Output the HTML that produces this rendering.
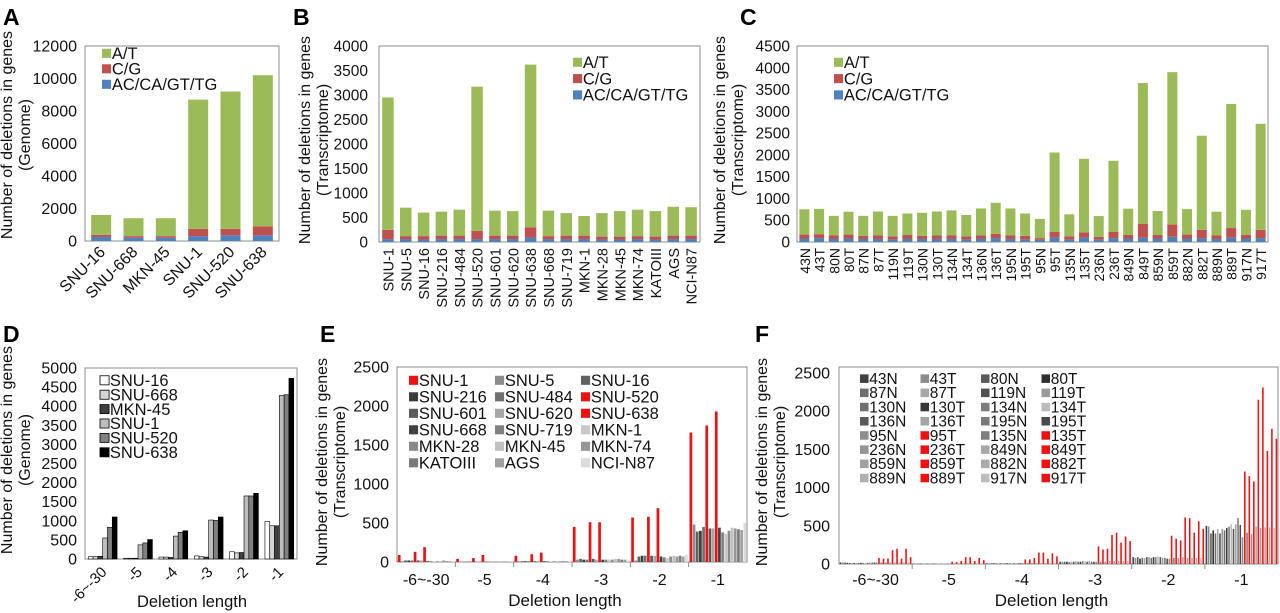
<!DOCTYPE html>
<html><head><meta charset="utf-8">
<style>
html,body{margin:0;padding:0;background:#fff;}
svg{display:block;font-family:"Liberation Sans",Arial,sans-serif;}
</style></head>
<body>
<svg id="fig" width="1280" height="613" viewBox="0 0 1280 613" xmlns="http://www.w3.org/2000/svg">
<g font-size="23" font-weight="bold" fill="#000">
<text x="3" y="25">A</text>
<text x="293" y="25">B</text>
<text x="740" y="25">C</text>
<text x="3" y="342">D</text>
<text x="320" y="342">E</text>
<text x="755" y="342">F</text>
</g>
</svg>
<script>
// ---------- Panel A data ----------
const aCats = ["SNU-16","SNU-668","MKN-45","SNU-1","SNU-520","SNU-638"];
const aBlue = [250,200,200,300,350,350];
const aRed = [130,100,100,450,400,550];
const aGreen = [1220,1100,1100,7950,8450,9300];
const aTicks = [0,2000,4000,6000,8000,10000,12000];
// ---------- Panel B data ----------
const bCats = ["SNU-1","SNU-5","SNU-16","SNU-216","SNU-484","SNU-520","SNU-601","SNU-620","SNU-638","SNU-668","SNU-719","MKN-1","MKN-28","MKN-45","MKN-74","KATOIII","AGS","NCI-N87"];
const bBlue = [60,60,50,60,60,60,60,60,90,60,60,60,50,50,60,50,60,60];
const bRed = [190,60,70,70,70,170,70,70,210,60,70,70,60,60,60,60,70,70];
const bGreen = [2700,580,480,490,530,2940,510,500,3320,520,460,400,480,520,540,520,590,580];
const bTicks = [0,500,1000,1500,2000,2500,3000,3500,4000];
// ---------- Panel C data ----------
const cCats = ["43N","43T","80N","80T","87N","87T","119N","119T","130N","130T","134N","134T","136N","136T","195N","195T","95N","95T","135N","135T","236N","236T","849N","849T","859N","859T","882N","882T","889N","889T","917N","917T"];
const cBlue = [80,90,70,80,70,70,60,70,70,70,70,60,70,90,70,60,50,100,60,100,60,90,80,100,80,120,80,90,70,100,80,90];
const cRed = [90,90,80,90,70,80,70,90,70,80,80,70,80,100,80,80,40,130,70,120,60,140,80,320,80,280,90,190,80,220,80,190];
const cGreen = [580,580,450,525,460,550,470,495,530,550,575,490,620,710,620,515,440,1825,505,1690,475,1635,605,3230,550,3500,585,2160,545,2850,580,2435];
const cTicks = [0,500,1000,1500,2000,2500,3000,3500,4000,4500];
// ---------- Panel D data ----------
const dGroups = ["-6~-30","-5","-4","-3","-2","-1"];
const dSeries = ["SNU-16","SNU-668","MKN-45","SNU-1","SNU-520","SNU-638"];
const dSNU16 = [60,20,50,80,190,980];
const dSNU668 = [60,20,50,60,160,870];
const dMKN45 = [70,20,40,50,170,870];
const dSNU1 = [550,370,600,1020,1650,4280];
const dSNU520 = [830,420,700,1010,1650,4300];
const dSNU638 = [1100,510,740,1100,1720,4730];
const dTicks = [0,500,1000,1500,2000,2500,3000,3500,4000,4500,5000];
// ---------- Panel E data ----------
const eGroups = ["-6~-30","-5","-4","-3","-2","-1"];
const eSeries = ["SNU-1","SNU-5","SNU-16","SNU-216","SNU-484","SNU-520","SNU-601","SNU-620","SNU-638","SNU-668","SNU-719","MKN-1","MKN-28","MKN-45","MKN-74","KATOIII","AGS","NCI-N87"];
const eLen6 = [90,10,20,20,20,130,20,20,190,10,10,10,10,10,20,10,10,10];
const eLen5 = [40,3,3,3,3,50,3,3,90,3,3,3,3,3,3,3,3,3];
const eLen4 = [80,10,10,10,10,100,10,10,120,10,10,5,10,10,10,10,10,10];
const eLen3 = [450,30,40,30,30,510,40,30,510,30,30,30,30,40,40,30,30,20];
const eLen2 = [570,20,70,80,80,580,80,80,690,70,60,50,70,80,70,80,70,90];
const eLen1 = [1660,480,390,400,450,1750,430,430,1930,440,380,360,400,440,430,420,410,500];
const eTicks = [0,500,1000,1500,2000,2500];
// ---------- Panel F data ----------
const fSeries = ["43N","43T","80N","80T","87N","87T","119N","119T","130N","130T","134N","134T","136N","136T","195N","195T","95N","95T","135N","135T","236N","236T","849N","849T","859N","859T","882N","882T","889N","889T","917N","917T"];
const fLen6 = [20,20,20,15,15,15,15,15,15,15,15,15,15,20,20,20,20,80,20,70,20,70,20,180,20,200,20,70,20,200,20,90];
const fLen5 = [5,5,5,5,5,5,5,5,5,5,5,5,5,5,5,5,5,30,5,25,5,40,5,90,5,90,5,40,5,80,5,50];
const fLen4 = [10,10,10,10,10,10,10,10,10,10,10,10,10,10,15,10,10,60,10,60,10,80,10,150,10,150,10,70,10,140,10,100];
const fLen3 = [30,30,30,30,25,30,30,35,30,30,40,35,30,40,30,30,30,230,30,190,30,200,40,380,40,410,40,280,40,360,40,300];
const fLen2 = [90,80,90,70,80,80,90,90,80,90,90,100,90,80,80,70,70,370,80,330,80,310,90,610,80,600,80,410,80,560,80,460];
const fLen1 = [500,490,400,440,400,460,400,460,440,470,490,520,460,520,600,510,350,1210,410,1150,390,1080,490,2150,470,2310,480,1480,480,1770,470,1640];
const fTicks = [0,500,1000,1500,2000,2500];

const NS = "http://www.w3.org/2000/svg";
const svg = document.getElementById("fig");
const GREEN = "#9bbb59", RED = "#c0504d", BLUE = "#4f81bd", BRED = "#ee1111";

function mk(tag, attrs, parent) {
  const el = document.createElementNS(NS, tag);
  for (const k in attrs) el.setAttribute(k, attrs[k]);
  (parent || svg).appendChild(el);
  return el;
}
function txt(s, x, y, size, anchor, parent, rot) {
  const t = mk("text", {x: x, y: y, "font-size": size, "text-anchor": anchor || "start", fill: "#111"}, parent);
  if (rot) t.setAttribute("transform", "rotate(" + rot + " " + x + " " + y + ")");
  t.textContent = s;
  return t;
}
function axisY(max, y0, y1) { return v => y0 - (v / max) * (y0 - y1); }
function axisX(n, x0, x1) { const w = (x1 - x0) / n; return i => x0 + w * (i + 0.5); }

function frame(name, x0, y0, x1, y1) {
  const r = mk("rect", {x: x0, y: y1, width: x1 - x0, height: y0 - y1, fill: "none", stroke: "#8c8c8c", "stroke-width": 1});
  
  
}
function yTicks(ticks, sy, x, size, prefix) {
  const g = mk("g", {});
  
  
  ticks.forEach(v => {
    const t = txt(String(v), x, sy(v) + 5.5, size, "end", g);
    
    
  });
}
function yTitle(lines, cx, cy, size, prefix) {
  const g = mk("g", {});
  
  
  lines.forEach((s, i) => {
    const x = cx + i * 18;
    txt(s, x, cy, size, "middle", g, -90);
  });
}
function legendEntry(g, label, color, x, y, size, stroke) {
  const e = mk("g", {}, g);
  
  
  mk("rect", {x: x, y: y - size * 0.62, width: size * 0.55, height: size * 0.55, fill: color, stroke: stroke || "none", "stroke-width": 0.8}, e);
  txt(label, x + size * 0.6, y, size, "start", e);
}

// ---------- stacked panels ----------
function stacked(prefix, cats, blue, red, green, ticks, max, x0, x1, y0, y1, barW, labFont, rot, labY, tickX, tickFont) {
  frame(prefix + '-plot-frame', x0, y0, x1, y1);
  const sy = axisY(max, y0, y1), sx = axisX(cats.length, x0, x1);
  yTicks(ticks, sy, tickX, tickFont, prefix);
  const g = mk("g", {});
  
  
  cats.forEach((c, i) => {
    const cx = sx(i);
    let base = 0;
    [[blue[i], BLUE, 'blue'], [red[i], RED, 'red'], [green[i], GREEN, 'green']].forEach(seg => {
      const r = mk("rect", {x: cx - barW / 2, y: sy(base + seg[0]), width: barW, height: sy(base) - sy(base + seg[0]), fill: seg[1]}, g);
      
      
      base += seg[0];
    });
    let t;
    if (rot === -45) t = txt(c, cx + 5, labY, labFont, "end", null, -45);
    else t = txt(c, cx + 5.5, labY, labFont, "end", null, -90);
    
    
  });
}
stacked('a', aCats, aBlue, aRed, aGreen, aTicks, 12000, 85, 279, 241, 46, 20, 16, -45, 253, 77, 16);
stacked('b', bCats, bBlue, bRed, bGreen, bTicks, 4000, 379, 700, 242, 46, 11.5, 14.5, -90, 248, 368, 15.5);
stacked('c', cCats, cBlue, cRed, cGreen, cTicks, 4500, 797, 1268, 242, 46, 10, 14, -90, 248, 790, 15.5);
yTitle(["Number of deletions in genes", "(Genome)"], 12, 135, 16, 'a');
yTitle(["Number of deletions in genes", "(Transcriptome)"], 310, 140, 16, 'b');
yTitle(["Number of deletions in genes", "(Transcriptome)"], 725, 140, 16, 'c');
[['a', 102, 59, 16.5], ['b', 573, 68, 16.5], ['c', 834, 68, 16.5]].forEach(p => {
  const g = mk("g", {});
  
  
  const sp = p[0] === 'a' ? 15.5 : 16.3;
  legendEntry(g, "A/T", GREEN, p[1], p[2], p[3]);
  legendEntry(g, "C/G", RED, p[1], p[2] + sp, p[3]);
  legendEntry(g, "AC/CA/GT/TG", BLUE, p[1], p[2] + sp * 2, p[3]);
});

// ---------- Panel D ----------
(function () {
  const x0 = 85, x1 = 297, y0 = 559, y1 = 368;
  frame('d-plot-frame', x0, y0, x1, y1);
  const sy = axisY(5000, y0, y1), sx = axisX(dGroups.length, x0, x1);
  yTicks(dTicks, sy, 77, 16, 'd');
  const series = [dSNU16, dSNU668, dMKN45, dSNU1, dSNU520, dSNU638];
  const colors = ["#ffffff", "#d4d4d4", "#404040", "#bdbdbd", "#808080", "#000000"];
  const bw = 4.8;
  const g = mk("g", {});
  
  
  dGroups.forEach((grp, gi) => {
    const cx = sx(gi);
    series.forEach((s, si) => {
      const x = cx - 3 * bw + si * bw;
      const r = mk("rect", {x: x, y: sy(s[gi]), width: bw, height: y0 - sy(s[gi]), fill: colors[si], stroke: "#000", "stroke-width": 0.6}, g);
      
      
    });
    const t = txt(grp, cx + 5, 573, 15, "end", null, -45);
    
    
  });
  const lg = mk("g", {});
  
  
  dSeries.forEach((s, i) => legendEntry(lg, s, colors[i], 100, 386 + i * 14.4, 16.5, "#000"));
  yTitle(["Number of deletions in genes", "(Genome)"], 12, 450, 16, 'd');
  const xt = txt("Deletion length", 192, 607, 16.5, "middle");
  
  
})();

// ---------- grouped panels E & F ----------
function grouped(prefix, groups, series, colors, ticks, x0, x1, y0, y1, yTop, tickX, bwFrac) {
  frame(prefix + '-plot-frame', x0, y0, x1, y1);
  const sy = axisY(2500, y0, yTop), sx = axisX(groups.length, x0, x1);
  yTicks(ticks, sy, tickX, 16, prefix);
  const gw = (x1 - x0) / groups.length;
  const n = series.length;
  const slot = gw / (n + 0.4);
  const g = mk("g", {});
  
  
  groups.forEach((grp, gi) => {
    const gx = x0 + gi * gw + slot * 0.2;
    series.forEach((s, si) => {
      const v = s[gi];
      const r = mk("rect", {x: gx + si * slot + slot * (1 - bwFrac) / 2, y: sy(v), width: slot * bwFrac, height: y0 - sy(v), fill: colors[si]}, g);
      
      
    });
    if (gi > 0) mk("line", {x1: x0 + gi * gw, x2: x0 + gi * gw, y1: y0, y2: y0 + 5, stroke: "#8c8c8c"});
    const t = txt(grp, sx(gi), 585, 16, "middle");
    
    
  });
  const xt = txt("Deletion length", (x0 + x1) / 2 - 7, 606, 17, "middle");
  
  
}
// transpose per-group arrays into per-series
const eByGroup = [eLen6, eLen5, eLen4, eLen3, eLen2, eLen1];
const fByGroup = [fLen6, fLen5, fLen4, fLen3, fLen2, fLen1];
const eSer = eSeries.map((_, si) => eByGroup.map(g => g[si]));
const fSer = fSeries.map((_, si) => fByGroup.map(g => g[si]));
const eColors = [BRED,"#8c8c8c","#606060","#3c3c3c","#707070",BRED,"#5a5a5a","#a6a6a6",BRED,"#404040","#808080","#c8c8c8","#8a8a8a","#c0c0c0","#969696","#7a7a7a","#a0a0a0","#dcdcdc"];
const fColors = fSeries.map((s, i) => {
  if (i >= 16 && i % 2 === 1) return BRED;
  const shades = ["#404040","#8c8c8c","#5c5c5c","#303030","#6e6e6e","#a8a8a8","#505050","#9a9a9a","#707070","#383838","#7c7c7c","#bcbcbc","#585858","#a4a4a4","#7a7a7a","#4a4a4a","#8e8e8e","","#7e7e7e","","#949494","","#a8a8a8","","#a0a0a0","","#aaaaaa","","#b0b0b0","","#bcbcbc",""];
  return shades[i];
});
grouped('e', eGroups, eSer, eColors, eTicks, 397, 747, 562, 367, 367, 389, 0.85);
grouped('f', eGroups, fSer, fColors, fTicks, 839, 1278, 564, 367, 373, 830, 0.7);
yTitle(["Number of deletions in genes", "(Transcriptome)"], 327, 462, 16, 'e');
yTitle(["Number of deletions in genes", "(Transcriptome)"], 767, 462, 16, 'f');
(function () {
  const lg = mk("g", {});
  
  
  eSeries.forEach((s, i) => legendEntry(lg, s, eColors[i], 409 + (i % 3) * 86, 386 + Math.floor(i / 3) * 16.5, 16.5));
  const lf = mk("g", {});
  
  
  fSeries.forEach((s, i) => legendEntry(lf, s, fColors[i], 860 + (i % 4) * 60.5, 384 + Math.floor(i / 4) * 14.2, 15.5));
})();
</script>
</body></html>
